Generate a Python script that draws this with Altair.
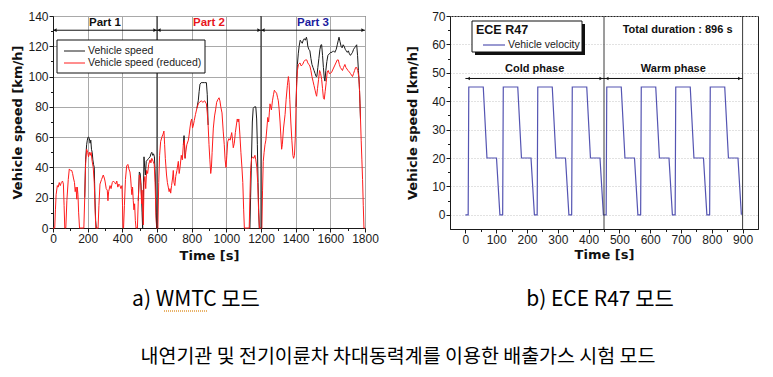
import altair as alt
import pandas as pd

# ---------------- data ----------------
# WMTC: reduced speed trace (red), (time s, speed km/h)
wmtc_reduced = [
    (0, 0), (10, 0), (14, 12), (18, 22), (25, 28), (30, 27), (36, 30), (42, 28), (48, 30), (55, 31), (60, 29), (64, 15), (68, 0),
    (74, 0), (80, 18), (88, 32), (94, 39), (102, 38), (108, 38), (113, 36), (118, 33), (124, 30), (128, 24), (133, 27), (137, 19),
    (140, 27), (144, 22), (148, 10), (153, 0),
    (178, 0), (183, 20), (188, 42), (194, 52), (200, 50), (205, 47), (210, 50), (215, 48), (220, 50), (226, 44), (232, 40),
    (238, 30), (243, 12), (247, 0),
    (260, 0), (265, 15), (271, 29), (280, 32), (290, 35), (296, 33), (300, 31), (307, 26), (313, 25), (317, 18), (321, 24),
    (329, 28), (335, 26), (342, 30), (348, 31), (356, 30), (362, 29), (368, 31), (374, 27), (380, 29), (386, 28), (392, 26),
    (398, 28), (401, 15), (404, 0),
    (407, 0), (412, 15), (418, 32), (425, 41), (432, 42), (438, 39), (444, 37), (448, 33), (452, 26), (455, 22), (459, 27),
    (463, 18), (467, 12), (471, 16), (475, 5), (479, 0),
    (487, 0), (492, 18), (498, 35), (503, 33), (507, 28), (511, 16), (514, 25), (518, 10), (521, 2), (525, 30), (530, 34),
    (535, 26), (540, 38), (546, 36), (552, 42), (560, 45), (565, 43), (570, 46), (578, 44), (584, 42), (589, 30), (594, 8),
    (598, 0),
    (605, 0), (610, 30), (615, 48), (621, 57), (628, 60), (635, 62), (640, 64), (644, 55), (648, 46), (655, 35), (660, 30),
    (665, 27), (670, 24), (675, 26), (679, 23), (684, 28), (690, 33), (694, 38), (698, 30), (703, 28), (708, 34), (715, 38),
    (723, 44), (728, 36), (733, 40), (740, 48), (746, 45), (752, 55), (758, 58), (762, 46), (766, 50), (772, 55), (781, 58),
    (786, 62), (790, 66), (795, 70), (800, 72), (805, 66), (810, 68), (815, 71), (822, 75), (830, 79), (838, 82), (845, 83),
    (855, 84), (865, 83), (875, 84), (885, 82), (890, 76), (895, 68), (900, 55), (905, 45), (910, 36), (914, 40), (918, 50),
    (925, 66), (932, 74), (938, 78), (944, 83), (952, 85), (958, 86), (963, 84), (968, 80), (975, 76), (982, 64), (988, 55),
    (993, 45), (998, 40), (1003, 48), (1008, 57), (1015, 59), (1022, 58), (1031, 63), (1036, 58), (1040, 53), (1046, 56),
    (1052, 63), (1058, 68), (1063, 72), (1068, 70), (1072, 72), (1078, 62), (1084, 50), (1090, 40), (1095, 30), (1100, 12),
    (1104, 0),
    (1132, 0), (1136, 20), (1140, 38), (1146, 46), (1152, 47), (1158, 46), (1165, 48), (1170, 45), (1176, 40), (1181, 30),
    (1186, 12), (1191, 0),
    (1205, 0), (1209, 25), (1213, 44), (1218, 50), (1223, 55), (1228, 58), (1234, 66), (1239, 73), (1244, 70), (1248, 76),
    (1252, 82), (1256, 80), (1260, 78), (1266, 84), (1272, 88), (1277, 91), (1283, 90), (1290, 89), (1296, 86), (1300, 84),
    (1305, 78), (1310, 70), (1315, 60), (1319, 52), (1323, 55), (1330, 66), (1339, 75), (1345, 85), (1352, 94), (1358, 100),
    (1362, 96), (1366, 85), (1372, 70), (1378, 58), (1384, 48), (1388, 46), (1393, 48), (1398, 60), (1402, 80), (1406, 95),
    (1410, 104), (1416, 108), (1425, 109), (1432, 107), (1440, 108), (1448, 110), (1456, 111), (1464, 111), (1470, 109),
    (1476, 108), (1482, 107), (1488, 104), (1494, 100), (1500, 97), (1506, 94), (1512, 91), (1518, 88), (1521, 87),
    (1526, 92), (1532, 98), (1538, 104), (1544, 102), (1550, 98), (1555, 92), (1560, 86), (1565, 85), (1570, 90), (1576, 96),
    (1582, 103), (1588, 104), (1594, 102), (1600, 102), (1608, 103), (1616, 105), (1624, 107), (1632, 109), (1640, 111),
    (1646, 111), (1652, 108), (1658, 106), (1664, 105), (1670, 104), (1676, 106), (1684, 108), (1690, 106), (1696, 105),
    (1702, 104), (1710, 103), (1716, 102), (1722, 101), (1728, 100), (1734, 102), (1740, 104), (1746, 106), (1752, 106),
    (1758, 104), (1764, 100), (1769, 90), (1774, 72), (1778, 58), (1782, 45), (1786, 32), (1790, 15), (1794, 0), (1800, 0),
]

# WMTC: full speed trace (black), only where it differs from the reduced trace
wmtc_full_seg1 = [(183, 20), (188, 45), (194, 55), (198, 58), (202, 60), (206, 60), (210, 59), (214, 56), (218, 58),
                  (222, 52), (226, 50), (230, 45), (234, 42), (238, 40), (242, 20), (246, 5), (250, 0)]
wmtc_full_seg2 = [(492, 18), (498, 37), (503, 36), (507, 30), (511, 20), (514, 10), (517, 0), (521, 20), (525, 47),
                  (529, 40), (533, 35), (538, 44), (545, 45), (552, 46), (560, 47), (565, 49), (570, 50), (575, 48),
                  (580, 49), (585, 47), (590, 35), (595, 10), (598, 0)]
wmtc_full_seg3 = [(752, 55), (756, 61), (760, 52), (762, 46)]
wmtc_full_seg4 = [(830, 79), (838, 84), (843, 90), (848, 95), (855, 96), (865, 96), (875, 96), (885, 96), (890, 88),
                  (895, 68)]
wmtc_full_seg5 = [(1136, 0), (1140, 20), (1145, 45), (1150, 70), (1155, 79), (1162, 80), (1170, 80), (1175, 72),
                  (1179, 55), (1183, 30), (1187, 10), (1190, 0)]
wmtc_full_seg6 = [(1402, 80), (1406, 98), (1410, 108), (1415, 115), (1420, 120), (1426, 124), (1432, 123), (1438, 122),
                  (1444, 124), (1450, 125), (1456, 124), (1462, 126), (1466, 124), (1470, 120), (1476, 118), (1482, 117),
                  (1488, 112), (1494, 108), (1500, 106), (1506, 104), (1512, 102), (1518, 100), (1522, 100), (1528, 106),
                  (1534, 112), (1540, 118), (1546, 121), (1550, 121), (1555, 114), (1560, 106), (1565, 99), (1569, 97),
                  (1574, 104), (1580, 110), (1586, 114), (1594, 115), (1602, 116), (1610, 116), (1618, 117), (1626, 116),
                  (1634, 118), (1640, 121), (1646, 124), (1650, 126), (1656, 123), (1662, 120), (1668, 119), (1674, 121),
                  (1680, 120), (1686, 118), (1692, 117), (1698, 116), (1704, 117), (1710, 115), (1716, 114), (1722, 115),
                  (1728, 116), (1734, 118), (1740, 119), (1746, 120), (1752, 121), (1757, 114), (1762, 104), (1767, 95),
                  (1771, 82), (1774, 72)]
wmtc_full_segments = [wmtc_full_seg1, wmtc_full_seg2, wmtc_full_seg3, wmtc_full_seg4, wmtc_full_seg5, wmtc_full_seg6]

# ECE R47 (time s, speed km/h)
ece_r47 = [
    (0, 0), (9, 0), (11, 45), (58, 45), (70, 20), (101, 20), (112, 0),
    (121, 0), (123, 45), (170, 45), (182, 20), (213, 20), (224, 0),
    (233, 0), (235, 45), (282, 45), (294, 20), (325, 20), (336, 0),
    (345, 0), (347, 45), (394, 45), (406, 20), (437, 20), (448, 0),
    (457, 0), (459, 45), (506, 45), (518, 20), (549, 20), (560, 0),
    (569, 0), (571, 45), (618, 45), (630, 20), (661, 20), (672, 0),
    (681, 0), (683, 45), (730, 45), (742, 20), (773, 20), (784, 0),
    (793, 0), (795, 45), (842, 45), (854, 20), (885, 20), (896, 0),
]

series_names = ["Vehicle speed", "Vehicle speed (reduced)"]
part_names = ["Part 1", "Part 2", "Part 3"]
part_start = [0, 600, 1200]
part_end = [600, 1200, 1800]
part_mid = [300, 900, 1500]
phase_names = ["Cold phase", "Warm phase"]
phase_start = [0, 450]
phase_end = [450, 900]
phase_mid = [225, 675]
ece_title = "ECE R47"
ece_series = "Vehicle velocity"
ece_note = "Total duration : 896 s"
captions = ["a) WMTC 모드", "b) ECE R47 모드", "내연기관 및 전기이륜차 차대동력계를 이용한 배출가스 시험 모드"]

wmtc_x_ticks = [0, 200, 400, 600, 800, 1000, 1200, 1400, 1600, 1800]
wmtc_x_minor = [100, 300, 500, 700, 900, 1100, 1300, 1500, 1700]
wmtc_y_ticks = [0, 20, 40, 60, 80, 100, 120, 140]
wmtc_y_minor = [10, 30, 50, 70, 90, 110, 130]
ece_x_ticks = [0, 100, 200, 300, 400, 500, 600, 700, 800, 900]
ece_x_minor = [50, 150, 250, 350, 450, 550, 650, 750, 850]
ece_y_ticks = [0, 10, 20, 30, 40, 50, 60, 70]
ece_y_minor = [5, 15, 25, 35, 45, 55, 65]

# ---------------- styling ----------------
FONT = "Liberation Sans"
TFONT = "DejaVu Sans"
KFONT = "Noto Sans CJK KR"
INK = "#1a1a1a"

red_df = pd.DataFrame(wmtc_reduced, columns=["t", "v"])
blk_df = pd.concat([pd.DataFrame(s, columns=["t", "v"]).assign(seg=i) for i, s in enumerate(wmtc_full_segments)],
                   ignore_index=True)
ece_df = pd.DataFrame(ece_r47, columns=["t", "v"])
one = pd.DataFrame({"a": [0]})


def main_axis(orient, values, title, grid, grid_color, grid_dash, title_off):
    kw = dict(orient=orient, values=values, format="d", grid=grid, tickSize=4, tickWidth=1, tickColor=INK,
              domain=True, domainColor=INK, labelFont=FONT, labelFontSize=12, labelColor=INK,
              labelFlush=False, labelOverlap=False, title=title, titleFont=TFONT, titleFontSize=13,
              titleFontWeight="bold", titleColor="#111111", titleBaseline="middle")
    if grid:
        kw.update(gridColor=grid_color, gridWidth=1)
        if grid_dash:
            kw.update(gridDash=grid_dash)
    if orient == "bottom":
        kw.update(labelPadding=1, titleY=title_off)
    else:
        kw.update(labelPadding=1, titleX=title_off)
    return alt.Axis(**kw)


def minor_axis(orient, values):
    return alt.Axis(orient=orient, values=values, grid=False, domain=False, labels=False,
                    tickSize=2.5, tickWidth=1, tickColor=INK, title=None)


def build_panel(xs, ys, xminor, yminor):
    def X(field, axis=None):
        return alt.X(field, type="quantitative", scale=xs, axis=axis)

    def Y(field, axis=None):
        return alt.Y(field, type="quantitative", scale=ys, axis=axis)

    def YD(val):
        return alt.YDatum(val, type="quantitative", scale=ys, axis=None)

    minor = alt.Chart(one.assign(t=xs.domain[0], v=ys.domain[0])).mark_point(opacity=0).encode(
        x=X("t", minor_axis("bottom", xminor)),
        y=Y("v", minor_axis("left", yminor)),
    )
    return X, Y, YD, minor


# ---------------- left panel: WMTC ----------------
XS_L = alt.Scale(domain=[0, 1800], nice=False, zero=False)
YS_L = alt.Scale(domain=[0, 140], nice=False, zero=False)
XL, YL, YDL, minor_l = build_panel(XS_L, YS_L, wmtc_x_minor, wmtc_y_minor)

ax_xl = main_axis("bottom", wmtc_x_ticks, "Time [s]", True, "#a9a9a9", None, 27)
ax_yl = main_axis("left", wmtc_y_ticks, "Vehicle speed [km/h]", True, "#a9a9a9", None, -36)

blk_line = alt.Chart(blk_df).mark_line(color=INK, strokeWidth=1).encode(
    x=XL("t", ax_xl), y=YL("v", ax_yl), detail="seg:N")
red_line = alt.Chart(red_df).mark_line(color="#ff1c1c", strokeWidth=1).encode(x=XL("t"), y=YL("v"))

parts_df = pd.DataFrame({"name": part_names, "s": part_start, "e": part_end, "m": part_mid})
dividers_l = alt.Chart(pd.DataFrame({"b": part_end[:2]})).mark_rule(color="#111111", strokeWidth=1).encode(x=XL("b"))
arrow_l = alt.Chart(parts_df).mark_rule(color="#111111", strokeWidth=1).encode(
    x=XL("s"), x2="e:Q", y=YDL(130.6))
head_l1 = alt.Chart(parts_df).mark_point(shape="triangle-left", filled=True, size=14, color="#111111",
                                         xOffset=2, opacity=1).encode(x=XL("s"), y=YDL(130.6))
head_l2 = alt.Chart(parts_df).mark_point(shape="triangle-right", filled=True, size=14, color="#111111",
                                         xOffset=-2, opacity=1).encode(x=XL("e"), y=YDL(130.6))
part_text = alt.Chart(parts_df).mark_text(font=FONT, fontSize=11.5, fontWeight="bold").encode(
    x=XL("m"), y=YDL(135.6), text="name:N",
    color=alt.Color("name:N", scale=alt.Scale(domain=part_names, range=["#111111", "#e8161d", "#1c1ca0"]),
                    legend=None))

leg_box_l = alt.Chart(one).mark_rect(fill="white", stroke="#111111", strokeWidth=1).encode(
    x=alt.value(4), x2=alt.value(152), y=alt.value(24), y2=alt.value(57))
leg_k = alt.Chart(one).mark_rule(color=INK, strokeWidth=1).encode(x=alt.value(11), x2=alt.value(32), y=alt.value(35))
leg_r = alt.Chart(one).mark_rule(color="#ff1c1c", strokeWidth=1).encode(x=alt.value(11), x2=alt.value(32), y=alt.value(47))
leg_tk = alt.Chart(one).mark_text(align="left", baseline="middle", font=FONT, fontSize=10.5, color="#222222").encode(
    x=alt.value(35), y=alt.value(35), text=alt.value(series_names[0]))
leg_tr = alt.Chart(one).mark_text(align="left", baseline="middle", font=FONT, fontSize=10.5, color="#222222").encode(
    x=alt.value(35), y=alt.value(47), text=alt.value(series_names[1]))

cap_a = alt.Chart(one).mark_text(align="center", baseline="middle", font=KFONT, fontSize=21, color="#000000").encode(
    x=alt.value(143), y=alt.value(284), text=alt.value(captions[0]))
cap_main = alt.Chart(one).mark_text(align="center", baseline="middle", font=KFONT, fontSize=19.5, color="#000000").encode(
    x=alt.value(345), y=alt.value(341), text=alt.value(captions[2]))
squiggle = alt.Chart(one).mark_rule(color="#e29a3a", strokeWidth=1.5, strokeDash=[1, 1]).encode(
    x=alt.value(111), x2=alt.value(155), y=alt.value(295))

left = alt.layer(
    blk_line, red_line, dividers_l, arrow_l, head_l1, head_l2, part_text,
    leg_box_l, leg_k, leg_r, leg_tk, leg_tr, cap_a, cap_main, squiggle, minor_l,
).properties(width=312, height=212).resolve_axis(x="independent", y="independent")

# ---------------- right panel: ECE R47 ----------------
XS_R = alt.Scale(domain=[-50, 950], nice=False, zero=False)
YS_R = alt.Scale(domain=[-5, 70], nice=False, zero=False)
XR, YR, YDR, minor_r = build_panel(XS_R, YS_R, ece_x_minor, ece_y_minor)

ax_xr = main_axis("bottom", ece_x_ticks, "Time [s]", False, None, None, 25)
ax_yr = main_axis("left", ece_y_ticks, "Vehicle speed [km/h]", True, "#c4c4c4", [1, 2], -38)

ece_line = alt.Chart(ece_df).mark_line(color="#5454b2", strokeWidth=1.2).encode(
    x=XR("t", ax_xr), y=YR("v", ax_yr))
phases_df = pd.DataFrame({"name": phase_names, "s": phase_start, "e": phase_end, "m": phase_mid})
dividers_r = alt.Chart(pd.DataFrame({"b": phase_end})).mark_rule(color="#3a3a3a", strokeWidth=1).encode(x=XR("b"))
arrow_r = alt.Chart(phases_df).mark_rule(color="#111111", strokeWidth=1).encode(x=XR("s"), x2="e:Q", y=YDR(48))
head_r1 = alt.Chart(phases_df).mark_point(shape="triangle-left", filled=True, size=12, color="#111111",
                                          xOffset=3, opacity=1).encode(x=XR("s"), y=YDR(48))
head_r2 = alt.Chart(phases_df).mark_point(shape="triangle-right", filled=True, size=12, color="#111111",
                                          xOffset=-3, opacity=1).encode(x=XR("e"), y=YDR(48))
phase_text = alt.Chart(phases_df).mark_text(font=FONT, fontSize=11, fontWeight="bold", color="#111111").encode(
    x=XR("m"), y=YDR(51.4), text="name:N")
note = alt.Chart(one).mark_text(font=FONT, fontSize=11, fontWeight="bold", color="#111111").encode(
    x=alt.XDatum(689, type="quantitative", scale=XS_R, axis=None), y=YDR(65.1), text=alt.value(ece_note))

shadow = alt.Chart(one).mark_rect(fill="#111111").encode(
    x=alt.value(25), x2=alt.value(135), y=alt.value(8), y2=alt.value(39))
leg_box_r = alt.Chart(one).mark_rect(fill="white", stroke="#111111", strokeWidth=1).encode(
    x=alt.value(22), x2=alt.value(132), y=alt.value(5), y2=alt.value(36))
leg_title_r = alt.Chart(one).mark_text(align="left", baseline="middle", font=FONT, fontSize=12.5, fontWeight="bold",
                                       color="#111111").encode(x=alt.value(26), y=alt.value(14), text=alt.value(ece_title))
leg_line_r = alt.Chart(one).mark_rule(color="#5454b2", strokeWidth=1.2).encode(
    x=alt.value(33), x2=alt.value(55), y=alt.value(29))
leg_text_r = alt.Chart(one).mark_text(align="left", baseline="middle", font=FONT, fontSize=10.5, color="#222222").encode(
    x=alt.value(58), y=alt.value(29), text=alt.value(ece_series))
cap_b = alt.Chart(one).mark_text(align="center", baseline="middle", font=KFONT, fontSize=21, color="#000000").encode(
    x=alt.value(150), y=alt.value(284), text=alt.value(captions[1]))

right = alt.layer(
    ece_line, dividers_r, arrow_r, head_r1, head_r2, phase_text, note,
    shadow, leg_box_r, leg_title_r, leg_line_r, leg_text_r, cap_b, minor_r,
).properties(width=308, height=213).resolve_axis(x="independent", y="independent")

chart = alt.hconcat(left, right, spacing=85, bounds="flush").properties(
    padding={"left": 2, "top": 1, "right": 2, "bottom": 2}, background="white"
).configure_view(stroke="#222222", strokeWidth=1)

chart.save("out.html", embed_options={"renderer": "svg", "actions": False})
